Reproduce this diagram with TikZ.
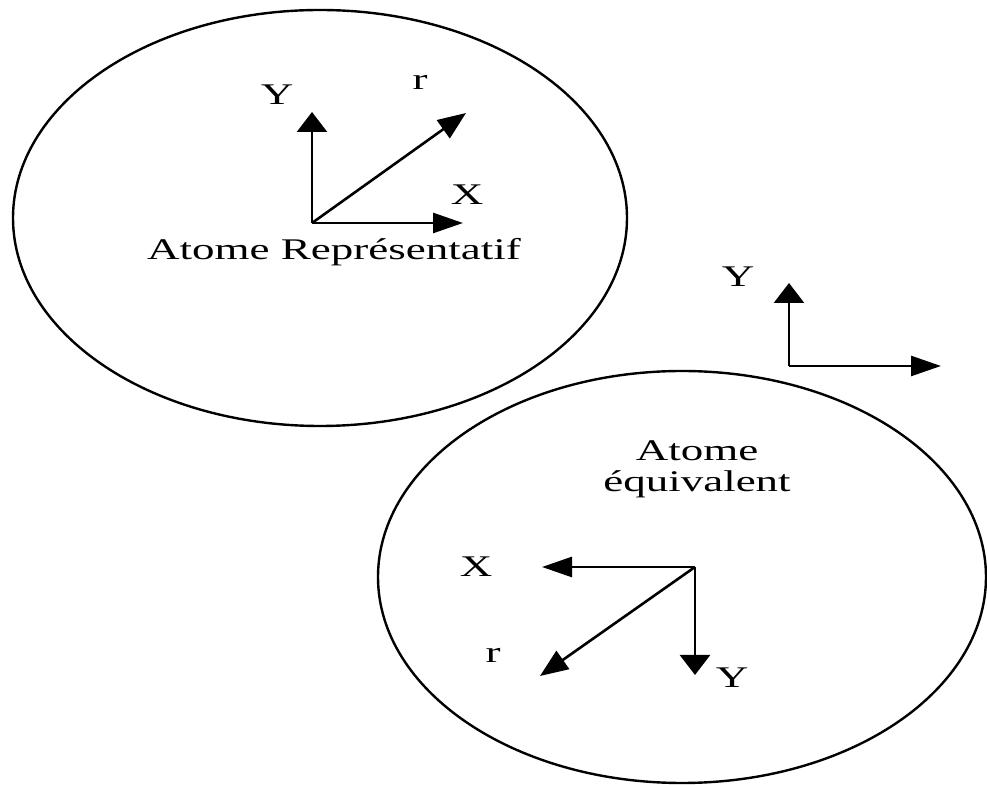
\documentclass[tikz,border=0pt]{standalone}
\usepackage{fontspec}
\newfontfamily\lblfont[FakeStretch=1.5]{Liberation Serif}
\usetikzlibrary{arrows.meta}

\begin{document}
\begin{tikzpicture}[
  x=0.5pt,y=-0.5pt,
  lbl/.style={font=\lblfont\fontsize{15pt}{15.5pt}\selectfont,inner sep=0pt},
  atom/.style={line width=1.2pt},
  axe/.style={line width=1.3pt},
  harr/.style={axe,-{Triangle[length=15pt,width=10pt]}},
  varr/.style={axe,-{Triangle[length=10pt,width=15pt]}},
  darr/.style={axe,-{Triangle[length=14pt,width=11pt]}}
]
\useasboundingbox (0,0) rectangle (987,785);

% representative atom
\draw[atom] (320,218) ellipse [x radius=153.5pt,y radius=104pt];
\coordinate (o1) at (312,223);
\coordinate (x1) at (463,223);
\coordinate (y1) at (312,112);
\coordinate (r1) at (466,113);
\draw[varr] (o1) -- (y1);
\draw[harr] (o1) -- (x1);
\draw[darr] (o1) -- (r1);
\node[lbl] (ly1) at (277,95) {Y};
\node[lbl] (lr1) at (420,82) {r};
\node[lbl] (lx1) at (467,195) {X};
\node[lbl,anchor=base] (rep) at (334,260) {Atome Représentatif};

% fixed frame
\coordinate (o3) at (789,366);
\coordinate (x3) at (941,366);
\coordinate (y3) at (789,283);
\draw[varr] (o3) -- (y3);
\draw[harr] (o3) -- (x3);
\node[lbl] (ly3) at (738,277) {Y};

% equivalent atom
\draw[atom] (682,577) ellipse [x radius=152pt,y radius=103pt];
\coordinate (o2) at (695,567);
\coordinate (x2) at (542,567);
\coordinate (y2) at (695,675);
\coordinate (r2) at (540,676);
\draw[harr] (o2) -- (x2);
\draw[varr] (o2) -- (y2);
\draw[darr] (o2) -- (r2);
\node[lbl] (lx2) at (476,567) {X};
\node[lbl] (lr2) at (493,655) {r};
\node[lbl] (ly2) at (732,678) {Y};
\node[lbl,align=center] (equi) at (697,469) {Atome\\équivalent};
\end{tikzpicture}
\end{document}
